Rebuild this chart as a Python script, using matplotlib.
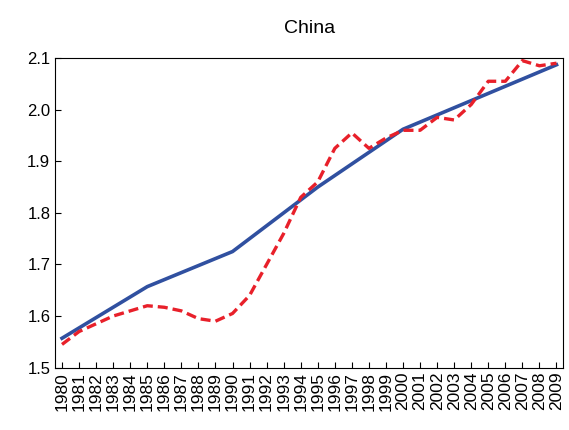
import matplotlib
matplotlib.use("Agg")
import matplotlib.pyplot as plt
plt.rcParams['font.family'] = ['Liberation Sans', 'DejaVu Sans']

years = list(range(1980, 2010))
trend_years = [1980, 1985, 1990, 1995, 2000, 2009]
trend_vals = [1.557, 1.657, 1.725, 1.85, 1.962, 2.087]
actual = [1.545, 1.57, 1.585, 1.6, 1.61, 1.62, 1.617, 1.61, 1.595, 1.59,
          1.605, 1.64, 1.70, 1.76, 1.83, 1.86, 1.925, 1.955, 1.925, 1.945,
          1.96, 1.96, 1.985, 1.98, 2.01, 2.055, 2.055, 2.095, 2.085, 2.09]

fig = plt.figure(figsize=(5.69, 4.30), dpi=100)
ax = fig.add_axes([0.097, 0.145, 0.893, 0.72])
ax.plot(trend_years, trend_vals, color="#3050a0", lw=2.6)
ax.plot(years, actual, color="#e8202a", lw=2.4, ls=(0, (3, 1.5)))
ax.set_xlim(1979.6, 2009.4)
ax.set_ylim(1.5, 2.1)
ax.set_xticks(years)
ax.set_xticklabels([str(y) for y in years], rotation=90, fontsize=12.5)
ax.set_yticks([1.5, 1.6, 1.7, 1.8, 1.9, 2.0, 2.1])
ax.set_yticklabels(["1.5", "1.6", "1.7", "1.8", "1.9", "2.0", "2.1"], fontsize=12)
ax.tick_params(direction="in", length=4)
ax.tick_params(axis="x", pad=3)
ax.set_title("China", fontsize=14, pad=18)
fig.savefig("out.png", dpi=100)
